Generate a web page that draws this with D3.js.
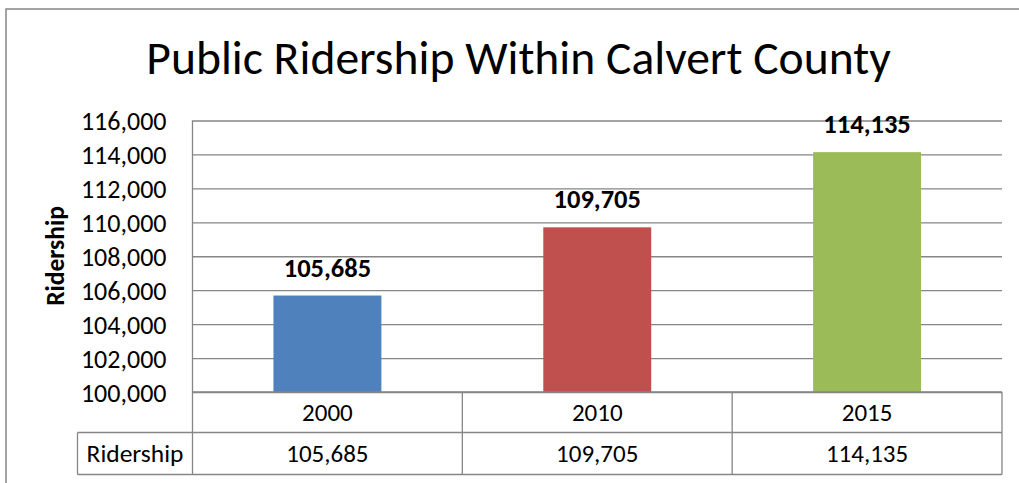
<!DOCTYPE html>
<html><head><meta charset="utf-8">
<script src="https://cdn.jsdelivr.net/npm/d3@7"></script>
<style>
html,body{margin:0;padding:0;background:#fff;}
svg{display:block;}
text{font-family:Calibri, Carlito, Lato, "Liberation Sans", sans-serif;fill:#000;}
</style></head>
<body><svg id="c" width="1019" height="483"></svg>
<script>
const categories = ["2000", "2010", "2015"];
const ridership = [105685, 109705, 114135];
const barColors = ["#4F81BD", "#C0504D", "#9BBB59"];
const yTicks = [100000, 102000, 104000, 106000, 108000, 110000, 112000, 114000, 116000];
const seriesName = "Ridership";
const titleText = "Public Ridership Within Calvert County";
const yTitle = "Ridership";

const svg = d3.select("#c");
const gridColor = "#868686";
const fmt = d3.format(",");

// outer chart frame
svg.append("path").attr("d", "M6,483 L6,9 L1019,9").attr("fill", "none")
  .attr("stroke", gridColor).attr("stroke-width", 1.5);

const plotL = 192.5, plotR = 1002, plotT = 120.5, plotB = 392;
const x = d3.scaleBand().domain(categories).range([plotL, plotR]).paddingInner(0).paddingOuter(0);
const y = d3.scaleLinear().domain([100000, 116000]).range([plotB, plotT]);

// title
svg.append("text").attr("x", 518.5).attr("y", 74).attr("text-anchor", "middle")
  .style("font-size", "47.6px").text(titleText);

// gridlines
const yAxis = d3.axisLeft(y).tickValues(yTicks).tickFormat(fmt).tickSize(-(plotR - plotL)).tickPadding(26);
const gy = svg.append("g").attr("transform", `translate(${plotL},0)`).call(yAxis);
gy.select(".domain").remove();
gy.selectAll(".tick line").attr("stroke", gridColor).attr("stroke-width", 1.3);
gy.selectAll(".tick text").attr("fill", "#000").style("font-size", "26px")
  .style("font-family", "Calibri, Carlito, Lato, 'Liberation Sans', sans-serif").attr("dy", "0.35em");

// y title
svg.append("text").attr("transform", "translate(64,256) rotate(-90)").attr("text-anchor", "middle")
  .style("font-size", "25.5px").style("font-weight", "bold").text(yTitle);

// bars
const bw = x.bandwidth() / 2.5;
svg.selectAll("rect.bar").data(categories).enter().append("rect").attr("class", "bar")
  .attr("x", d => x(d) + (x.bandwidth() - bw) / 2)
  .attr("width", bw)
  .attr("y", (d, i) => y(ridership[i]))
  .attr("height", (d, i) => plotB - y(ridership[i]))
  .attr("fill", (d, i) => barColors[i]);

// data labels
svg.selectAll("text.lbl").data(categories).enter().append("text").attr("class", "lbl")
  .attr("x", d => x(d) + x.bandwidth() / 2)
  .attr("y", (d, i) => y(ridership[i]) - 19)
  .attr("text-anchor", "middle").style("font-size", "26.5px").style("font-weight", "bold")
  .text((d, i) => fmt(ridership[i]));

// data table
const rowMid = 432.5, rowBot = 474.5, hdrL = 77.5;
const tg = svg.append("g").attr("stroke", gridColor).attr("stroke-width", 1.3).attr("fill", "none");
tg.append("line").attr("x1", plotL).attr("x2", plotL).attr("y1", plotT).attr("y2", rowBot);
tg.append("line").attr("x1", plotL).attr("x2", plotR).attr("y1", plotB).attr("y2", plotB);
tg.append("line").attr("x1", hdrL).attr("x2", plotR).attr("y1", rowMid).attr("y2", rowMid);
tg.append("line").attr("x1", hdrL).attr("x2", plotR).attr("y1", rowBot).attr("y2", rowBot);
tg.append("line").attr("x1", hdrL).attr("x2", hdrL).attr("y1", rowMid).attr("y2", rowBot);
categories.forEach(c => {
  tg.append("line").attr("x1", x(c) + x.bandwidth()).attr("x2", x(c) + x.bandwidth())
    .attr("y1", plotB).attr("y2", rowBot);
});
svg.selectAll("text.cat").data(categories).enter().append("text").attr("class", "cat")
  .attr("x", d => x(d) + x.bandwidth() / 2).attr("y", 421)
  .attr("text-anchor", "middle").style("font-size", "25px").text(d => d);
svg.selectAll("text.val").data(categories).enter().append("text").attr("class", "val")
  .attr("x", d => x(d) + x.bandwidth() / 2).attr("y", 461.5)
  .attr("text-anchor", "middle").style("font-size", "25px").text((d, i) => fmt(ridership[i]));
svg.append("text").attr("x", (hdrL + plotL) / 2).attr("y", 461.5).attr("text-anchor", "middle")
  .style("font-size", "25.5px").text(seriesName);
</script></body></html>
